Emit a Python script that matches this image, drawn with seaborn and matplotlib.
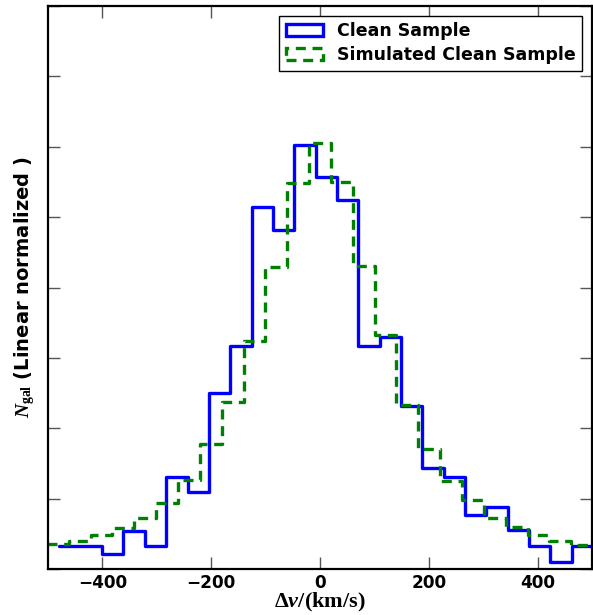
import numpy as np
import pandas as pd
import matplotlib
matplotlib.use("Agg")
import matplotlib.pyplot as plt
from matplotlib.patches import Patch
import seaborn as sns

# Bin edges (km/s)
clean_edges = list(np.linspace(-479, 502, 26))
sim_edges = list(np.linspace(-502, 502, 26))

# Histogram heights (linear normalized units)
clean_heights = [0.33, 0.33, 0.22, 0.54, 0.33, 1.31, 1.10, 2.50, 3.17, 5.14,
                 4.82, 6.02, 5.57, 5.25, 3.17, 3.29, 2.31, 1.43, 1.31, 0.77,
                 0.88, 0.55, 0.33, 0.10, 0.33]
sim_heights = [0.36, 0.40, 0.48, 0.58, 0.72, 0.94, 1.27, 1.78, 2.38, 3.24,
               4.29, 5.49, 6.05, 5.50, 4.31, 3.32, 2.33, 1.70, 1.25, 0.98,
               0.73, 0.59, 0.48, 0.40, 0.34]

labels = ["Clean Sample", "Simulated Clean Sample"]
xticks = [-400, -200, 0, 200, 400]

sns.set_style("ticks")
plt.rcParams["font.family"] = ["DejaVu Sans"]
plt.rcParams["text.color"] = "black"
plt.rcParams["axes.labelcolor"] = "black"
plt.rcParams["xtick.color"] = "black"
plt.rcParams["ytick.color"] = "black"
plt.rcParams["mathtext.fontset"] = "custom"
plt.rcParams["mathtext.rm"] = "Liberation Serif:bold"
plt.rcParams["mathtext.it"] = "Liberation Serif:italic:bold"
plt.rcParams["mathtext.bf"] = "Liberation Serif:bold"

ce = np.array(clean_edges)
se = np.array(sim_edges)
clean_df = pd.DataFrame({"v": 0.5 * (ce[:-1] + ce[1:]), "w": clean_heights})
sim_df = pd.DataFrame({"v": 0.5 * (se[:-1] + se[1:]), "w": sim_heights})

fig, ax = plt.subplots(figsize=(5.93, 6.15), dpi=100)
fig.subplots_adjust(left=48 / 593, right=592 / 593, bottom=46 / 615, top=609 / 615)

sns.histplot(data=clean_df, x="v", weights="w", bins=clean_edges, element="step",
             fill=False, color="#0000ff", linewidth=2.4, ax=ax)
sns.histplot(data=sim_df, x="v", weights="w", bins=sim_edges, element="step",
             fill=False, color="#008000", linewidth=2.4, linestyle=(0, (3, 2)), ax=ax)

ax.set_xlim(-500, 500)
ax.set_ylim(0, 8)
ax.set_xticks(xticks)
ax.set_yticks(range(0, 9))
ax.tick_params(direction="in", length=8.5, width=1, color="#555555", labelcolor="black",
               top=True, right=True, labelleft=False, labelsize=12.2, pad=3.5)
for lab in ax.get_xticklabels():
    lab.set_fontweight("bold")
for sp in ax.spines.values():
    sp.set_linewidth(1.6)
    sp.set_color("black")

ax.set_xlabel(r"$\Delta v/(\mathrm{km/s})$", fontsize=16, labelpad=-0.5, color="black")
ax.set_ylabel(r"$N_{\rm gal}$ (Linear normalized )", fontsize=14, fontweight="bold",
              labelpad=8, color="black")

handles = [Patch(facecolor="none", edgecolor="#0000ff", linewidth=2.4),
           Patch(facecolor="none", edgecolor="#008000", linewidth=2.4, linestyle=(0, (3, 2)))]
leg = ax.legend(handles, labels, loc="upper right", prop={"weight": "bold", "size": 12.5},
                frameon=True, fancybox=False, framealpha=1, borderaxespad=0.55,
                handlelength=2.1, handletextpad=0.8, borderpad=0.4, labelspacing=0.3)
leg.get_frame().set_edgecolor("black")
leg.get_frame().set_linewidth(1.0)
for t in leg.get_texts():
    t.set_color("black")

fig.savefig("out.png", dpi=100)
